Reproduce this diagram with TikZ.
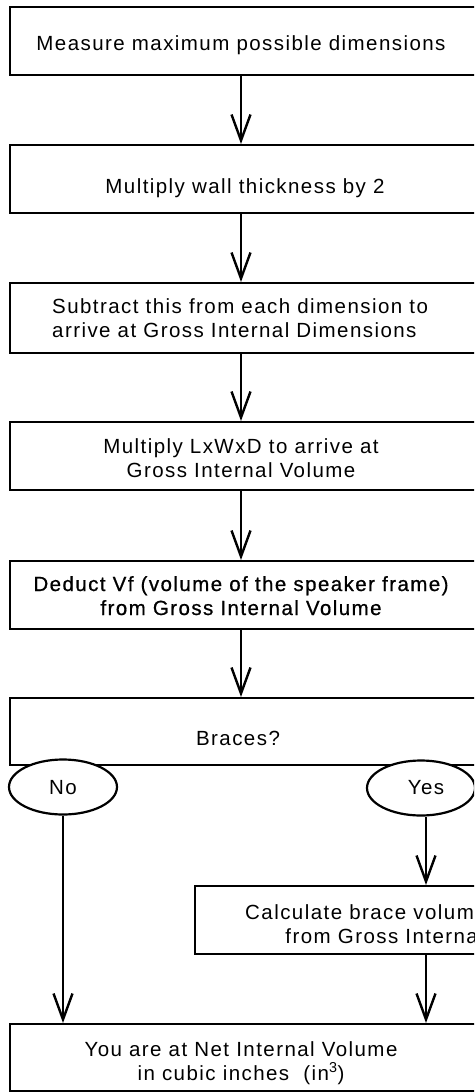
\documentclass[tikz,border=0pt]{standalone}
\usepackage{fontspec}
\setmainfont{Liberation Sans}[LetterSpace=7]
\usetikzlibrary{arrows.meta,shapes.geometric}
\tikzset{
  box/.style={draw, line width=2.4pt, fill=white, inner sep=0pt, anchor=north west},
  oval/.style={ellipse, draw, line width=2.2pt, fill=white, inner sep=0pt, minimum width=108pt, minimum height=55pt},
  txt/.style={inner sep=0pt, align=center, font=\fontsize{20.5}{24}\selectfont, anchor=base},
  arr/.style={line width=2.4pt, -{Straight Barb[length=26pt,width=19pt,line width=2.4pt]}}
}
\begin{document}
\begin{tikzpicture}[x=1pt,y=-1pt]
\useasboundingbox (0,0) rectangle (474,1092);
\clip (0,0) rectangle (474,1092);
\fill[white] (0,0) rectangle (474,1092);
% boxes
\node[box, minimum width=471pt, minimum height=68pt] (b1) at (9,6) {};
\node[box, minimum width=471pt, minimum height=68pt] (b2) at (9,144) {};
\node[box, minimum width=471pt, minimum height=70pt] (b3) at (9,282) {};
\node[box, minimum width=471pt, minimum height=68pt] (b4) at (9,421) {};
\node[box, minimum width=471pt, minimum height=68pt] (b5) at (9,560) {};
\node[box, minimum width=471pt, minimum height=67pt] (b6) at (9,697) {};
\node[box, minimum width=464pt, minimum height=68pt] (b7) at (194,885) {};
\node[box, minimum width=471pt, minimum height=67pt] (b8) at (9,1023) {};
% texts (multi-line nodes: base = last line)
\node[txt] (t1) at (241,50) {Measure maximum possible dimensions};
\node[txt] (t2) at (245,193) {Multiply wall thickness by 2};
\node[txt, align=left, anchor=base west] (t3) at (52,337) {Subtract this from each dimension to\\arrive at Gross Internal Dimensions};
\node[txt] (t4) at (241,477) {Multiply LxWxD to arrive at\\Gross Internal Volume};
\node[txt, font=\fontsize{20.5}{24}\selectfont\addfontfeature{FakeBold=0.7}] (t5) at (241,615) {Deduct Vf (volume of the speaker frame)\\from Gross Internal Volume};
\node[txt] (t6) at (238,745) {Braces?};
\node[txt] (t7) at (426,943) {Calculate brace volume and deduct\\from Gross Internal Volume};
\node[txt] (t8) at (241,1080) {You are at Net Internal Volume\\in cubic inches\ \ (in\textsuperscript{3})};
% decisions
\node[oval] (no) at (63,787) {};
\node[txt] (tno) at (63,794) {No};
\node[oval] (yes) at (421,788) {};
\node[txt] (tyes) at (426,794) {Yes};
% connectors
\coordinate (ax) at (241,0);
\coordinate (ay) at (426,0);
\coordinate (an) at (63,0);
\draw[arr] (b1.south -| ax) -- (b2.north -| ax);
\draw[arr] (b2.south -| ax) -- (b3.north -| ax);
\draw[arr] (b3.south -| ax) -- (b4.north -| ax);
\draw[arr] (b4.south -| ax) -- (b5.north -| ax);
\draw[arr] (b5.south -| ax) -- (b6.north -| ax);
\draw[arr] (yes.south -| ay) -- (b7.north -| ay);
\draw[arr] (b7.south -| ay) -- (b8.north -| ay);
\draw[arr] (no.south) -- (b8.north -| an);
\end{tikzpicture}
\end{document}
